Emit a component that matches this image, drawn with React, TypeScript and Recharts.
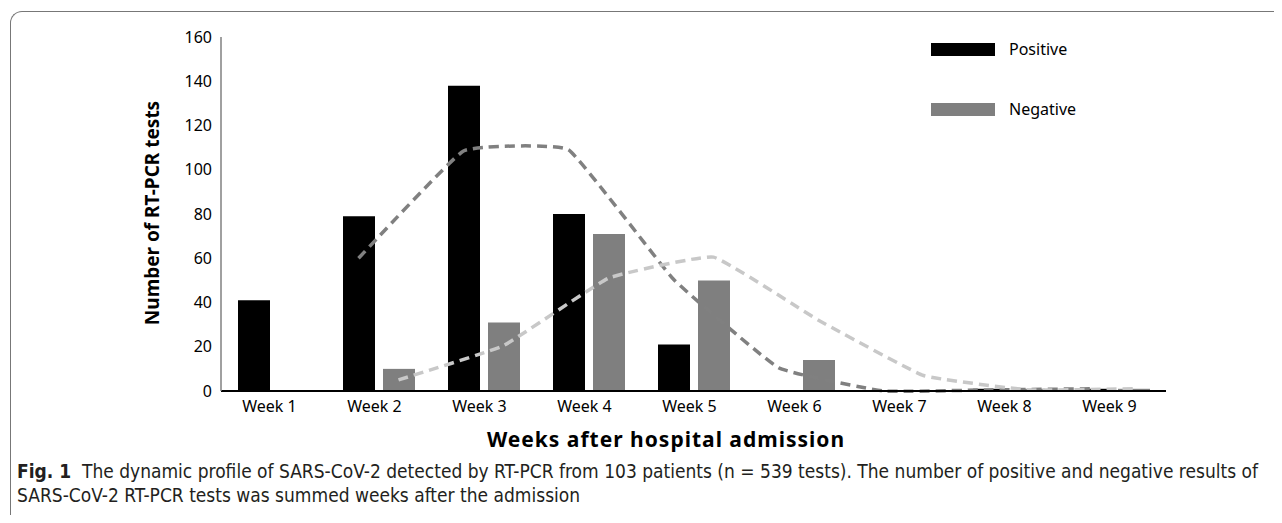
import { ComposedChart, Bar, Line, XAxis, YAxis, Legend } from "recharts";

const weeks = ["Week 1", "Week 2", "Week 3", "Week 4", "Week 5", "Week 6", "Week 7", "Week 8", "Week 9"];
const positive = [41, 79, 138, 80, 21, 0, 0, 1, 1];
const negative = [0, 10, 31, 71, 50, 14, 0, 1, 1];
// two-period moving average trendlines
const positiveTrend = [null, 60, 108.5, 109, 50.5, 10.5, 0, 0.5, 1];
const negativeTrend = [null, 5, 20.5, 51, 60.5, 32, 7, 0.5, 1];
const yTicks = [0, 20, 40, 60, 80, 100, 120, 140, 160];
const legendOrder = ["Positive", "Negative"];

const data = weeks.map((w, i) => ({
  week: w,
  Positive: positive[i],
  Negative: negative[i],
  posTrend: positiveTrend[i],
  negTrend: negativeTrend[i],
}));

const FONT = "'Noto Sans', 'Open Sans', sans-serif";

// lightly smoothed curve, roughly like Excel's "smoothed line"
function softCurve(context: any) {
  let pts: number[][] = [];
  const k = 1 / 20;
  return {
    areaStart() {},
    areaEnd() {},
    lineStart() {
      pts = [];
    },
    point(x: number, y: number) {
      pts.push([+x, +y]);
    },
    lineEnd() {
      if (!pts.length) return;
      context.moveTo(pts[0][0], pts[0][1]);
      for (let i = 0; i < pts.length - 1; i++) {
        const p0 = pts[i - 1] || pts[i];
        const p1 = pts[i];
        const p2 = pts[i + 1];
        const p3 = pts[i + 2] || p2;
        context.bezierCurveTo(
          p1[0] + (p2[0] - p0[0]) * k,
          p1[1] + (p2[1] - p0[1]) * k,
          p2[0] - (p3[0] - p1[0]) * k,
          p2[1] - (p3[1] - p1[1]) * k,
          p2[0],
          p2[1]
        );
      }
    },
  };
}

function LegendBox({ payload }: any) {
  const items = (payload || [])
    .filter((p: any) => legendOrder.includes(p.value))
    .sort((a: any, b: any) => legendOrder.indexOf(a.value) - legendOrder.indexOf(b.value));
  return (
    <div style={{ fontFamily: FONT, fontSize: 16, color: "#000" }}>
      {items.map((p: any) => (
        <div key={p.value} style={{ display: "flex", alignItems: "center", height: 60 }}>
          <span style={{ display: "inline-block", width: 64, height: 13, background: p.color, marginRight: 14 }} />
          <span>{p.value}</span>
        </div>
      ))}
    </div>
  );
}

export default function App() {
  return (
    <div style={{ position: "relative", width: 1282, height: 523, margin: -8, overflow: "hidden", background: "#fff" }}>
      <div
        style={{
          position: "absolute",
          left: 10,
          top: 11,
          width: 1400,
          height: 700,
          borderTop: "1.5px solid #777",
          borderLeft: "1.5px solid #777",
          borderTopLeftRadius: 12,
        }}
      />
      <div style={{ position: "absolute", left: 0, top: 0 }}>
        <ComposedChart
          width={1282}
          height={523}
          data={data}
          margin={{ top: 37, right: 116, bottom: 102, left: 151 }}
          barSize={32}
          barGap={8}
        >
          <XAxis
            dataKey="week"
            axisLine={{ stroke: "#000", strokeWidth: 2 }}
            tickLine={false}
            tickSize={0}
            tickMargin={10}
            tick={{ fill: "#000", fontSize: 16, fontFamily: FONT, dx: -4 }}
            height={30}
          />
          <XAxis xAxisId="pos" dataKey="week" hide padding={{ left: -20, right: 20 }} />
          <XAxis xAxisId="neg" dataKey="week" hide padding={{ left: 20, right: -20 }} />
          <YAxis
            domain={[0, 160]}
            ticks={yTicks}
            width={70}
            axisLine={{ stroke: "#808080", strokeWidth: 1.5 }}
            tickLine={false}
            tickSize={0}
            tickMargin={9}
            tick={{ fill: "#000", fontSize: 16, fontFamily: FONT }}
          />
          <Legend
            layout="vertical"
            verticalAlign="middle"
            align="center"
            content={<LegendBox />}
            wrapperStyle={{ position: "absolute", left: 931, top: 19, width: 200 }}
          />
          <Bar dataKey="Positive" fill="#000000" isAnimationActive={false} />
          <Bar dataKey="Negative" fill="#7f7f7f" isAnimationActive={false} />
          <Line
            xAxisId="pos"
            dataKey="posTrend"
            type={softCurve as any}
            stroke="#808080"
            strokeWidth={3.5}
            strokeDasharray="10 6"
            dot={false}
            legendType="none"
            connectNulls
            isAnimationActive={false}
          />
          <Line
            xAxisId="neg"
            dataKey="negTrend"
            type={softCurve as any}
            stroke="#c8c8c8"
            strokeWidth={3.5}
            strokeDasharray="10 6"
            dot={false}
            legendType="none"
            connectNulls
            isAnimationActive={false}
          />
        </ComposedChart>
      </div>
      <div
        style={{
          position: "absolute",
          left: 152,
          top: 213,
          transform: "translate(-50%, -50%) rotate(-90deg)",
          fontFamily: FONT,
          fontWeight: 700,
          fontSize: 19,
          whiteSpace: "nowrap",
          color: "#000",
        }}
      >
        Number of RT-PCR tests
      </div>
      <div
        style={{
          position: "absolute",
          left: 666,
          top: 439,
          transform: "translate(-50%, -50%)",
          fontFamily: FONT,
          fontWeight: 700,
          fontSize: 21,
          letterSpacing: 1,
          whiteSpace: "nowrap",
          color: "#000",
        }}
      >
        Weeks after hospital admission
      </div>
      <div
        style={{
          position: "absolute",
          left: 17,
          top: 459,
          fontFamily: "'Liberation Sans Narrow', 'DejaVu Sans Condensed', sans-serif",
          fontSize: 19,
          lineHeight: "24px",
          whiteSpace: "nowrap",
          color: "#231f20",
        }}
      >
        <b>Fig. 1</b>&nbsp;&nbsp;The dynamic profile of SARS-CoV-2 detected by RT-PCR from 103 patients (n = 539 tests). The number of positive and negative results of
        <br />
        SARS-CoV-2 RT-PCR tests was summed weeks after the admission
      </div>
    </div>
  );
}
